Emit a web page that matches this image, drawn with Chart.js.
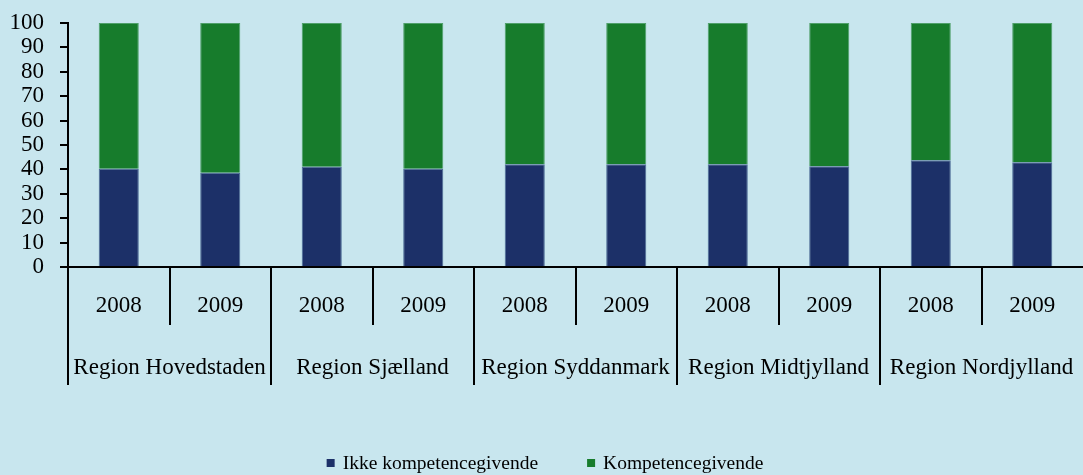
<!DOCTYPE html>
<html>
<head>
<meta charset="utf-8">
<script src="https://cdn.jsdelivr.net/npm/chart.js@4"></script>
<style>
  body { margin: 0; background: #C8E6EE; }
  canvas { display: block; }
</style>
</head>
<body>
<canvas id="chart" width="1083" height="475"></canvas>
<script>
const years = ['2008', '2009', '2008', '2009', '2008', '2009', '2008', '2009', '2008', '2009'];
const regions = ['Region Hovedstaden', 'Region Sjælland', 'Region Syddanmark', 'Region Midtjylland', 'Region Nordjylland'];
const ikkeKompetence = [40.3, 38.6, 41.1, 40.3, 42.1, 42.1, 42.1, 41.3, 43.7, 42.9];
const kompetence = [59.7, 61.4, 58.9, 59.7, 57.9, 57.9, 57.9, 58.7, 56.3, 57.1];
const yTicks = [0, 10, 20, 30, 40, 50, 60, 70, 80, 90, 100];

const serif = '"Liberation Serif", "Times New Roman", serif';

// tegner de to niveauer af x-aksen og forklaringen
const axisPlugin = {
    id: 'axisPlugin',
    afterDraw(chart) {
        const ctx = chart.ctx;
        const x = chart.scales.x;
        const bottom = chart.chartArea.bottom;
        const step = x.getPixelForValue(1) - x.getPixelForValue(0);
        const left = x.getPixelForValue(0) - step / 2;

        ctx.save();
        ctx.strokeStyle = '#000';
        ctx.lineWidth = 2;
        for (let i = 0; i < years.length; i++) {
            const px = Math.round(left + i * step);
            const len = i % 2 === 0 ? 118 : 58;
            ctx.beginPath();
            ctx.moveTo(px, bottom);
            ctx.lineTo(px, bottom + len);
            ctx.stroke();
        }

        ctx.fillStyle = '#000';
        ctx.font = '23px ' + serif;
        ctx.textAlign = 'center';
        ctx.textBaseline = 'middle';
        years.forEach((y, i) => {
            ctx.fillText(y, x.getPixelForValue(i), bottom + 39);
        });
        regions.forEach((r, i) => {
            const cx = left + (i * 2 + 1) * step;
            ctx.fillText(r, cx, bottom + 101);
        });

        // forklaring
        ctx.font = '19.5px ' + serif;
        const ds = chart.data.datasets;
        const box = 8, gap = 8, itemGap = 49;
        const widths = ds.map(d => ctx.measureText(d.label).width);
        const total = widths.reduce((a, w) => a + w + box + gap, 0) + itemGap;
        let lx = 545 - total / 2;
        const ly = 463;
        ctx.textAlign = 'left';
        ds.forEach((d, i) => {
            ctx.fillStyle = d.backgroundColor;
            ctx.fillRect(lx, ly - box / 2, box, box);
            ctx.fillStyle = '#000';
            ctx.fillText(d.label, lx + box + gap, ly + 1);
            lx += box + gap + widths[i] + itemGap;
        });
        ctx.restore();
    }
};

new Chart(document.getElementById('chart'), {
    type: 'bar',
    data: {
        labels: years.map((y, i) => regions[Math.floor(i / 2)] + ' ' + y),
        datasets: [
            {
                label: 'Ikke kompetencegivende',
                data: ikkeKompetence,
                backgroundColor: '#1C3068',
                borderColor: '#4A6A94',
                borderWidth: 1
            },
            {
                label: 'Kompetencegivende',
                data: kompetence,
                backgroundColor: '#177C2C',
                borderColor: '#4FA06A',
                borderWidth: 1
            }
        ]
    },
    options: {
        responsive: false,
        animation: false,
        barPercentage: 0.395,
        categoryPercentage: 1,
        layout: { padding: { top: 23, right: -2, left: 0, bottom: 0 } },
        plugins: {
            legend: { display: false },
            tooltip: { enabled: false }
        },
        scales: {
            x: {
                stacked: true,
                grid: { display: false },
                border: { display: true, color: '#000', width: 2 },
                ticks: { display: false },
                afterFit: s => { s.height = 208; s.paddingLeft = 0; s.paddingRight = 0; }
            },
            y: {
                stacked: true,
                min: 0,
                max: 100,
                afterFit: s => { s.width = 68; s.paddingTop = 0; s.paddingBottom = 0; },
                afterBuildTicks: s => { s.ticks = yTicks.map(v => ({ value: v })); },
                grid: { drawOnChartArea: false, tickLength: 8, color: '#000', lineWidth: 2 },
                border: { display: true, color: '#000', width: 2 },
                ticks: {
                    color: '#000',
                    padding: 16,
                    autoSkip: false,
                    font: { family: serif, size: 23 }
                }
            }
        }
    },
    plugins: [axisPlugin]
});
</script>
</body>
</html>
